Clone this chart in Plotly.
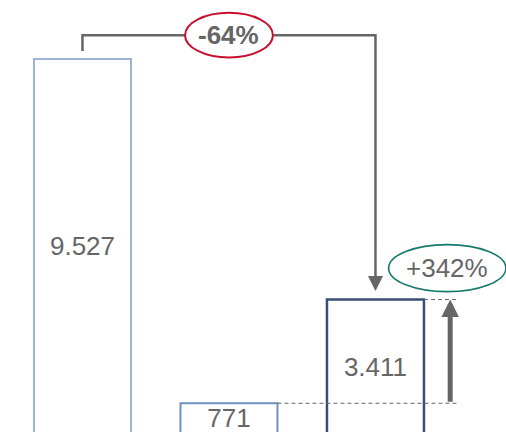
import plotly.graph_objects as go

# data
categories = ["A", "B", "C"]
values = [9527, 771, 3411]
bar_colors = ["#9db2d4", "#7090c2", "#3a4e75"]
bar_line_widths = [2, 2, 2.5]

GRAY = "#666666"
FONT = "Arial, Liberation Sans, sans-serif"

x_pos = list(range(len(values)))
bar_w = 0.662

pct_total = round((values[2] / values[0] - 1) * 100)
pct_up = round((values[2] / values[1] - 1) * 100)

fig = go.Figure()
fig.add_trace(go.Bar(
    x=x_pos, y=values, width=bar_w,
    marker=dict(color="white", line=dict(color=bar_colors, width=bar_line_widths)),
    texttemplate="%{y:,}", textposition="inside", insidetextanchor="middle",
    textangle=0, constraintext="none", cliponaxis=True,
    textfont=dict(family=FONT, size=26, color=GRAY),
    hoverinfo="skip",
))

# connector from first bar over to third bar
conn_y = values[0] + 610
start_y = values[0] + 205
tip_y = values[2] + 215
shapes = [
    dict(type="path", xref="x", yref="y",
         path=f"M {x_pos[0]},{start_y} L {x_pos[0]},{conn_y} L {x_pos[2]},{conn_y} L {x_pos[2]},{tip_y + 300}",
         line=dict(color=GRAY, width=2.5)),
    # -64% ellipse
    dict(type="circle", xref="x", yref="y",
         x0=x_pos[1] - 0.30, x1=x_pos[1] + 0.30, y0=conn_y - 570, y1=conn_y + 570,
         line=dict(color="#c8102e", width=2), fillcolor="white", layer="above"),
    # +342% ellipse
    dict(type="circle", xref="x", yref="y",
         x0=2.09, x1=2.89, y0=values[2] + 200, y1=values[2] + 1395,
         line=dict(color="#137a6d", width=1.6), fillcolor="white", layer="above"),
    # dashed guides
    dict(type="line", xref="x", yref="y", x0=x_pos[2] + bar_w / 2, x1=2.56,
         y0=values[2], y1=values[2], line=dict(color="#666666", width=1, dash="4px,3px")),
    dict(type="line", xref="x", yref="y", x0=x_pos[1] + bar_w / 2, x1=2.56,
         y0=values[1], y1=values[1], line=dict(color="#666666", width=1, dash="4px,3px")),
]

annotations = [
    # down arrow into third bar
    dict(x=x_pos[2], y=tip_y, ax=x_pos[2], ay=tip_y + 400, xref="x", yref="y",
         axref="x", ayref="y", text="", showarrow=True, arrowhead=2,
         arrowwidth=2.5, arrowsize=1.2, arrowcolor=GRAY),
    # up arrow from 771 level to 3411 level
    dict(x=2.51, y=values[2], ax=2.51, ay=values[1], xref="x", yref="y",
         axref="x", ayref="y", text="", showarrow=True, arrowhead=2,
         arrowwidth=5, arrowsize=0.7, arrowcolor=GRAY),
    dict(x=x_pos[1], y=conn_y, xref="x", yref="y", text=f"<b>{pct_total:+d}%</b>",
         showarrow=False, font=dict(family=FONT, size=26, color=GRAY)),
    dict(x=2.49, y=values[2] + 800, xref="x", yref="y", text=f"{pct_up:+d}%",
         showarrow=False, font=dict(family=FONT, size=26, color=GRAY)),
]

fig.update_layout(
    width=506, height=432,
    margin=dict(l=0, r=0, t=0, b=0),
    paper_bgcolor="white", plot_bgcolor="white",
    separators=",.",
    showlegend=False,
    shapes=shapes, annotations=annotations,
)
fig.update_xaxes(range=[-0.563, 2.891], visible=False)
fig.update_yaxes(range=[40, 11031], visible=False)

# drop the default page margin so the figure sits at the window corner
fig.write_html("out.html", config={"displayModeBar": False},
               post_script="document.body.style.margin='0';")
